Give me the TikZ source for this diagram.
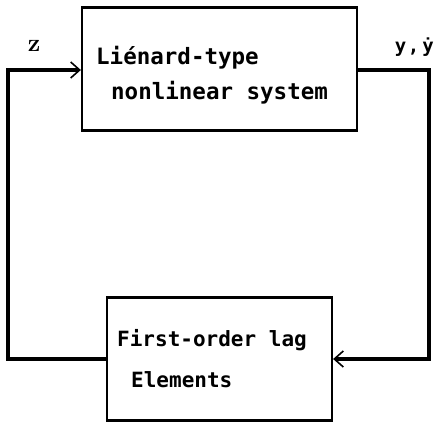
\documentclass[tikz,border=0pt]{standalone}
\usepackage{fontspec}
\setmonofont{DejaVu Sans Mono}
\usetikzlibrary{arrows.meta}
\tikzset{
  blockbox/.style={draw, line width=2.2pt, rectangle, inner sep=0pt},
  blocktext/.style={anchor=west, inner sep=0pt, font=\ttfamily\bfseries\fontsize{22.5}{26}\selectfont},
  lowtext/.style={blocktext, font=\ttfamily\bfseries\fontsize{21}{25}\selectfont},
  sig/.style={line width=3.4pt},
  sigarrow/.style={sig, -{Straight Barb[length=9pt,width=16pt,line width=1.6pt]}},
  siglabel/.style={inner sep=0pt, font=\ttfamily\bfseries\fontsize{19}{22}\selectfont}
}
\begin{document}
\begin{tikzpicture}[x=1pt, y=-1pt]
\useasboundingbox (0,0) rectangle (435,422);
% forward block
\node[blockbox, minimum width=275pt, minimum height=123pt] (sys) at (219.5,69) {};
\node[blocktext] (t1) at (96,58) {Liénard-type};
\node[blocktext] (t2) at (111,93) {nonlinear system};
% feedback block
\node[blockbox, minimum width=225pt, minimum height=123pt] (lag) at (219.5,359) {};
\node[lowtext] (t3) at (117,340) {First-order lag};
\node[lowtext] (t4) at (131,380) {Elements};
% loop corners
\coordinate (ur) at (429,70);
\coordinate (lr) at (429,359);
\coordinate (ll) at (8,359);
\coordinate (ul) at (8,70);
% signal paths
\draw[sigarrow] (sys.east |- ur) -- (ur) -- (lr) -- (lag.east);
\draw[sigarrow] (lag.west) -- (ll) -- (ul) -- (sys.west |- ul);
% signal labels
\node[inner sep=0pt, font=\rmfamily\bfseries\fontsize{25}{28}\selectfont] (z) at (34,46) {z};
\node[siglabel, anchor=east] (y) at (434,47) {y\kern1.5pt,\kern3pt ẏ};
\end{tikzpicture}
\end{document}
